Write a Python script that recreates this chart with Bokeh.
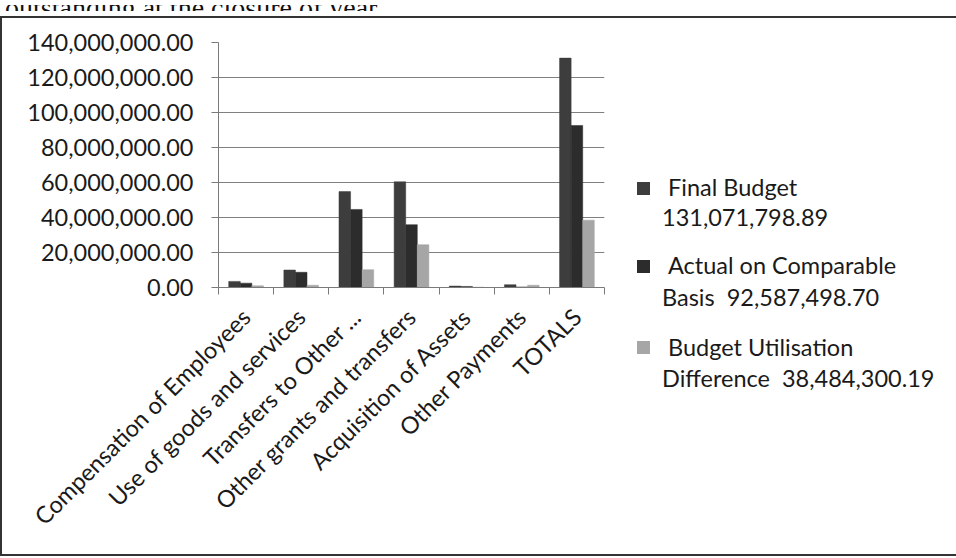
import math
from bokeh.plotting import figure
from bokeh.models import (FixedTicker, NumeralTickFormatter, Range1d, Div)
from bokeh.layouts import column, row
from bokeh.embed import file_html
from bokeh.resources import INLINE

# ---------------- data ----------------
categories = ["Compensation of Employees", "Use of goods and services",
              "Transfers to Other ...", "Other grants and transfers",
              "Acquisition of Assets", "Other Payments", "TOTALS"]
final_budget = [3.5e6, 10.0e6, 54.8e6, 60.4e6, 0.8e6, 1.6e6, 131071798.89]
actual_comparable = [2.5e6, 8.7e6, 44.6e6, 35.9e6, 0.6e6, 0.3e6, 92587498.70]
utilisation_difference = [1.0e6, 1.3e6, 10.2e6, 24.5e6, 0.2e6, 1.3e6, 38484300.19]
legend_line1 = ["Final Budget", "Actual on Comparable", "Budget Utilisation"]
legend_line2 = ["131,071,798.89", "Basis&nbsp;&nbsp;92,587,498.70",
                "Difference&nbsp;&nbsp;38,484,300.19"]
y_ticks = [0, 20e6, 40e6, 60e6, 80e6, 100e6, 120e6, 140e6]
caption = "outstanding at the closure of year."

series = [final_budget, actual_comparable, utilisation_difference]
colors = ["#3d3d3d", "#2c2c2c", "#a6a6a6"]
offsets = [-0.21, 0.0, 0.21]

FONT = "Lato"
FS = "23.5px"
H = 536
W_MAIN = 607
W_LEG = 345

p = figure(width=W_MAIN, height=H, output_backend="svg", toolbar_location=None,
           x_range=Range1d(0, len(categories)), y_range=Range1d(0, 140e6),
           min_border_left=216, min_border_right=5, min_border_top=24,
           min_border_bottom=H - 24 - 245, background_fill_color="white",
           border_fill_color="white")
p.outline_line_color = None

for vals, col, off in zip(series, colors, offsets):
    xs = [i + 0.5 + off for i in range(len(categories))]
    p.vbar(x=xs, top=vals, width=0.21, fill_color=col, line_color=col, line_width=0.5)

# y axis
p.yaxis.ticker = FixedTicker(ticks=y_ticks, minor_ticks=[])
p.yaxis.formatter = NumeralTickFormatter(format="0,0.00")
p.yaxis.major_tick_out = 7
p.yaxis.major_tick_in = 0
p.yaxis.minor_tick_out = 0
p.yaxis.minor_tick_in = 0
p.yaxis.major_label_standoff = 18
p.yaxis.axis_line_color = "#7a7a7a"
p.yaxis.major_tick_line_color = "#7a7a7a"
p.yaxis.major_label_text_font = FONT
p.yaxis.major_label_text_font_size = FS
p.yaxis.major_label_text_color = "#1a1a1a"

p.ygrid.ticker = FixedTicker(ticks=y_ticks)
p.ygrid.grid_line_color = "#808080"
p.ygrid.grid_line_width = 1.2
p.xgrid.grid_line_color = None

# x axis: labels at category centres, tick marks at category boundaries
p.xaxis.ticker = FixedTicker(ticks=[i + 0.5 for i in range(len(categories))],
                             minor_ticks=list(range(len(categories) + 1)))
p.xaxis.major_label_overrides = {i + 0.5: c for i, c in enumerate(categories)}
p.xaxis.major_tick_out = 0
p.xaxis.major_tick_in = 0
p.xaxis.minor_tick_out = 7
p.xaxis.minor_tick_in = 0
p.xaxis.minor_tick_line_color = "#7a7a7a"
p.xaxis.axis_line_color = "#7a7a7a"
p.xaxis.major_label_orientation = math.pi / 4
p.xaxis.major_label_standoff = 18
p.xaxis.major_label_text_font = FONT
p.xaxis.major_label_text_font_size = FS
p.xaxis.major_label_text_color = "#1a1a1a"

# ---------------- legend (HTML panel to the right of the plot) ----------------
key_left = 23
key_tops = [159, 237, 318]
line1_left, line2_left = 54, 48
line1_tops = [149, 227, 309]
line2_tops = [179, 259, 340]

LEG_H = 440
parts = ['<div style="position:relative;width:%dpx;height:%dpx;font-family:Lato;'
         'font-size:%s;color:#1a1a1a;">' % (W_LEG - 20, LEG_H - 20, FS)]
for col, kt, l1, t1, l2, t2 in zip(colors, key_tops, legend_line1, line1_tops,
                                   legend_line2, line2_tops):
    parts.append('<div style="position:absolute;left:%dpx;top:%dpx;width:13px;'
                 'height:13px;background:%s;"></div>' % (key_left, kt, col))
    parts.append('<div style="position:absolute;left:%dpx;top:%dpx;line-height:30px;'
                 'white-space:nowrap;">%s</div>' % (line1_left, t1, l1))
    parts.append('<div style="position:absolute;left:%dpx;top:%dpx;line-height:30px;'
                 'white-space:nowrap;">%s</div>' % (line2_left, t2, l2))
parts.append('</div>')
leg = Div(text="".join(parts), width=W_LEG, height=LEG_H,
          styles={"background": "white", "overflow": "hidden"})

top = Div(text=('<div style="font-family:\'Liberation Serif\'; font-size:28px; '
                'line-height:28px; margin-top:-20px; white-space:nowrap; '
                'color:#111">' + caption + '</div>'),
          width=952, height=6, styles={"overflow": "hidden"})

box = row(p, leg, spacing=0, styles={"border": "2px solid #333"})
layout = column(top, box, spacing=0)
open("out.html", "w").write(file_html(layout, INLINE))
